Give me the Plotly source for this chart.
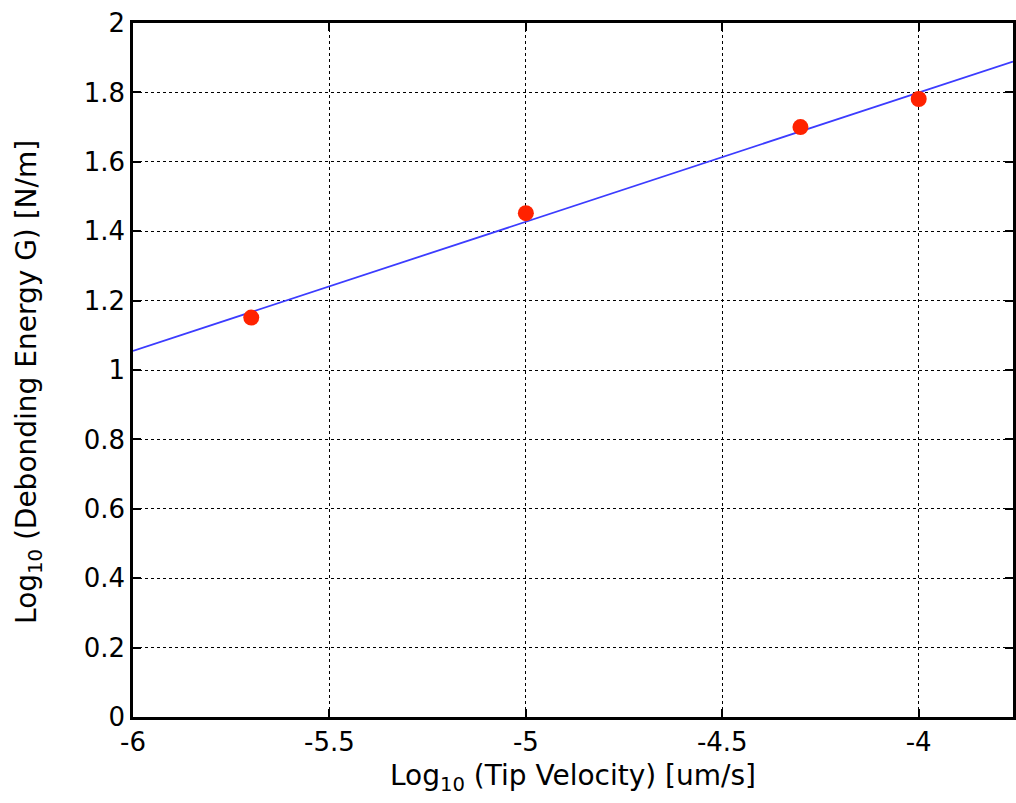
import plotly.graph_objects as go

# Measured debonding energy vs. tip velocity (log10 scale)
log_velocity = [-5.699, -5.0, -4.301, -4.0]
log_energy = [1.151, 1.452, 1.700, 1.781]

# Linear fit endpoints
fit_x = [-6.0, -3.76]
fit_y = [1.055, 1.889]

x_ticks = [-6, -5.5, -5, -4.5, -4]
x_tick_text = ["-6", "-5.5", "-5", "-4.5", "-4"]
y_ticks = [0, 0.2, 0.4, 0.6, 0.8, 1, 1.2, 1.4, 1.6, 1.8, 2]
y_tick_text = ["0", "0.2", "0.4", "0.6", "0.8", "1", "1.2", "1.4", "1.6", "1.8", "2"]

FONT = "DejaVu Sans, Verdana, sans-serif"

fig = go.Figure()
fig.add_trace(go.Scatter(
    x=fit_x, y=fit_y, mode="lines",
    line=dict(color="#3c3cff", width=1.8),
    showlegend=False,
))
fig.add_trace(go.Scatter(
    x=log_velocity, y=log_energy, mode="markers",
    marker=dict(color="#ff2200", size=16, line=dict(width=0)),
    showlegend=False,
))

axis_common = dict(
    showline=True, linecolor="black", linewidth=2.5,
    ticks="inside", ticklen=8, tickwidth=1.5, tickcolor="black",
    showgrid=True, gridcolor="black", gridwidth=1, griddash="dot",
    zeroline=False,
    tickfont=dict(family=FONT, size=26, color="black"),
)

fig.update_xaxes(
    range=[-6, -3.76], tickvals=x_ticks, ticktext=x_tick_text,
    mirror="ticks",
    title=dict(text="Log<sub>10</sub> (Tip Velocity) [um/s]",
               font=dict(family=FONT, size=28, color="black"),
               standoff=10),
    **axis_common,
)
fig.update_yaxes(
    range=[0, 2], tickvals=y_ticks, ticktext=y_tick_text,
    mirror="ticks",
    **axis_common,
)

# Y-axis label placed as a rotated annotation beside the tick labels
fig.add_annotation(
    text="Log<sub>10</sub> (Debonding Energy G) [N/m]",
    xref="paper", yref="paper", x=-0.118, y=0.483,
    xanchor="center", yanchor="middle", textangle=-90, showarrow=False,
    font=dict(family=FONT, size=28, color="black"),
)

fig.update_layout(
    width=1016, height=803,
    margin=dict(l=133, r=0, t=23, b=86),
    plot_bgcolor="white", paper_bgcolor="white",
)

fig.write_html("out.html")
